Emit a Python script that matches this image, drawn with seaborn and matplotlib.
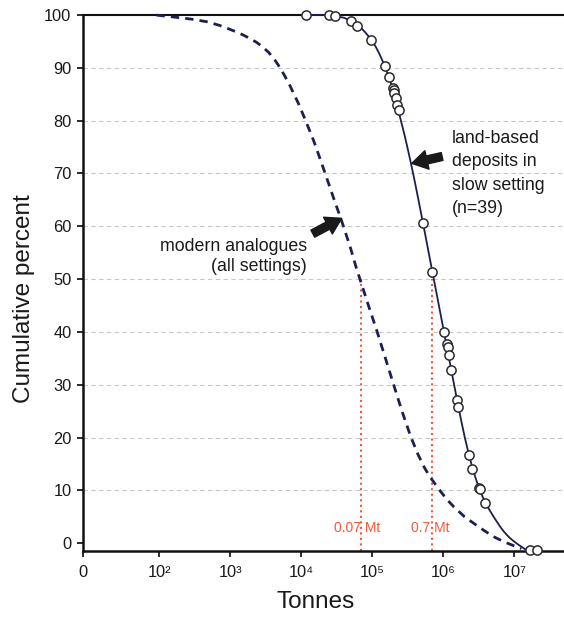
import matplotlib
matplotlib.use("Agg")
import matplotlib.pyplot as plt
from matplotlib.ticker import NullLocator
import seaborn as sns
import pandas as pd
import numpy as np

# values; tonnes are kept as log10(tonnes)

# land-based deposits in slow setting (n=39)
deposit_log_t = [4.06, 4.39, 4.48, 4.70, 4.79, 4.98, 5.18, 5.24, 5.29, 5.30,
                 5.31, 5.33, 5.35, 5.37, 5.71, 5.845, 6.01, 6.05, 6.06, 6.08,
                 6.11, 6.19, 6.21, 6.36, 6.40, 6.50, 6.52, 6.58, 7.22, 7.32]
deposit_pct = [100, 100, 99.7, 98.8, 97.9, 95.2, 90.3, 88.2, 86.2, 85.8,
               85.3, 84.2, 83.0, 82.0, 60.7, 51.4, 40.0, 37.8, 37.2, 35.6,
               32.8, 27.1, 25.8, 16.8, 14.1, 10.5, 10.2, 7.6, -1.3, -1.3]

# fitted curve through the deposits (solid line)
fit_log_t = [4.06, 4.25, 4.40, 4.50, 4.60, 4.70, 4.75, 4.80, 4.85, 4.90,
             4.95, 5.00, 5.05, 5.10, 5.15, 5.20, 5.25, 5.30, 5.35, 5.40,
             5.45, 5.50, 5.55, 5.60, 5.65, 5.70, 5.75, 5.80, 5.845, 5.90,
             5.95, 6.00, 6.05, 6.10, 6.15, 6.20, 6.25, 6.30, 6.35, 6.40,
             6.45, 6.50, 6.55, 6.60, 6.65, 6.70, 6.75, 6.80, 6.85, 6.90,
             6.95, 7.00, 7.05, 7.10, 7.15, 7.18]
fit_pct = [100, 100, 99.9, 99.75, 99.45, 98.9, 98.5, 98.0, 97.4, 96.7,
           95.9, 95.0, 93.9, 92.6, 91.1, 89.4, 87.6, 85.4, 82.8, 80.1,
           77.45, 74.55, 71.5, 68.3, 64.95, 61.5, 58.05, 54.55, 51.4, 47.6,
           44.1, 40.6, 37.1, 33.6, 30.1, 26.65, 23.3, 20.15, 17.3, 14.75,
           12.5, 10.55, 8.9, 7.5, 6.3, 5.2, 4.15, 3.15, 2.25, 1.5,
           0.85, 0.3, -0.2, -0.65, -1.1, -1.3]

# modern analogues (all settings), dashed line
modern_log_t = [1.96, 2.20, 2.45, 2.67, 2.85, 2.95, 3.08, 3.18, 3.28, 3.37,
                3.45, 3.54, 3.62, 3.68, 3.76, 3.84, 3.96, 4.06, 4.17, 4.25,
                4.33, 4.45, 4.57, 4.69, 4.77, 4.83, 4.95, 5.06, 5.18, 5.30,
                5.42, 5.54, 5.64, 5.73, 5.81, 5.95, 6.05, 6.14, 6.30, 6.52,
                6.70, 6.85, 7.00, 7.10]
modern_pct = [99.95, 99.6, 99.2, 98.7, 98.0, 97.5, 96.8, 96.2, 95.5, 94.8,
              94.0, 92.9, 91.6, 90.4, 88.6, 86.6, 83.2, 80.0, 76.3, 73.3,
              70.2, 65.5, 60.9, 56.0, 52.3, 49.8, 44.8, 40.35, 35.2, 30.0,
              24.9, 20.2, 16.9, 14.4, 12.6, 10.0, 8.3, 7.0, 5.0, 2.9,
              1.3, 0.3, -0.5, -1.0]

medians = [7e4, 7e5]
median_labels = ["0.07 Mt", "0.7 Mt"]
median_label_shift = [-3.4, -1.4]

xtick_vals = [8.5, 1e2, 1e3, 1e4, 1e5, 1e6, 1e7]
xtick_labels = ["0", "10²", "10³", "10⁴", "10⁵", "10⁶", "10⁷"]
ytick_vals = list(range(0, 101, 10))

sns.set_theme(style="ticks")
plt.rcParams["font.family"] = ["Liberation Sans", "DejaVu Sans"]

NAVY = "#1c1f52"
RED = "#ee5a3e"
TXT = "#1a1a1a"

fig, ax = plt.subplots(figsize=(5.64, 6.2), dpi=100)
fig.subplots_adjust(left=0.1477, right=1.0, top=0.976, bottom=0.1118)

ax.set_xscale("log")
ax.set_xlim(8.5, 5.0e7)
ax.set_ylim(-1.4, 100)

ax.grid(axis="y", linestyle=(0, (4, 3)), color="#c8c8c8", linewidth=0.8)
ax.set_axisbelow(True)

# median markers
ax.vlines(medians, -1.4, 50, colors=RED, linestyles=":", linewidth=1.5, zorder=2)
for m, lab, dx in zip(medians, median_labels, median_label_shift):
    ax.annotate(lab, xy=(m, 2.8), xytext=(dx, 0), textcoords="offset points",
                ha="center", va="center", color=RED, fontsize=10)

modern_df = pd.DataFrame({"Tonnes": np.power(10.0, modern_log_t), "pct": modern_pct})
fit_df = pd.DataFrame({"Tonnes": np.power(10.0, fit_log_t), "pct": fit_pct})
dep_df = pd.DataFrame({"Tonnes": np.power(10.0, deposit_log_t), "pct": deposit_pct})

sns.lineplot(data=modern_df, x="Tonnes", y="pct", ax=ax, color=NAVY, linewidth=2.0,
             linestyle=(0, (3, 2.2)), clip_on=False, zorder=3)
sns.lineplot(data=fit_df, x="Tonnes", y="pct", ax=ax, color=NAVY, linewidth=1.3,
             clip_on=False, zorder=4)
sns.scatterplot(data=dep_df, x="Tonnes", y="pct", ax=ax, color="white",
                edgecolor="#2b2b2b", linewidth=1.1, s=44, clip_on=False, zorder=5)

# annotations
arrow = dict(arrowstyle="simple,head_length=0.7,head_width=0.85,tail_width=0.36",
             color="#1a1a1a", mutation_scale=16, shrinkA=0, shrinkB=0)
ax.annotate("", xy=(3.59e5, 71.9), xytext=(9.6e5, 73.2), arrowprops=arrow)
ax.annotate("", xy=(3.7e4, 61.5), xytext=(1.45e4, 58.6), arrowprops=arrow)
ax.text(1.31e6, 78.2, "land-based\ndeposits in\nslow setting\n(n=39)", ha="left",
        va="top", fontsize=12.8, color=TXT, linespacing=1.48)
ax.text(1.19e4, 57.8, "modern analogues\n(all settings)", ha="right", va="top",
        fontsize=12.8, color=TXT, multialignment="right", linespacing=1.25)

ax.set_xticks(xtick_vals)
ax.set_xticklabels(xtick_labels)
ax.xaxis.set_minor_locator(NullLocator())
ax.set_yticks(ytick_vals)
for gl, v in zip(ax.get_ygridlines(), ytick_vals):
    if v in (0, 100):
        gl.set_visible(False)

ax.tick_params(axis="both", direction="out", labelsize=11.8, labelcolor=TXT,
               color="#1a1a1a", width=1.3, length=4.5, pad=4)
ax.tick_params(axis="x", pad=6)

ax.set_xlabel("Tonnes", fontsize=17.5, color=TXT)
ax.set_ylabel("Cumulative percent", fontsize=17.5, color=TXT)
ax.xaxis.set_label_coords(0.484, -0.075)
ax.yaxis.set_label_coords(-0.10, 0.47)

for side in ("left", "bottom"):
    ax.spines[side].set_linewidth(1.8)
    ax.spines[side].set_color("#111111")
ax.spines["top"].set_linewidth(1.5)
ax.spines["top"].set_color("#111111")
ax.spines["top"].set_visible(True)
ax.spines["right"].set_visible(False)

fig.savefig("out.png", dpi=100)
